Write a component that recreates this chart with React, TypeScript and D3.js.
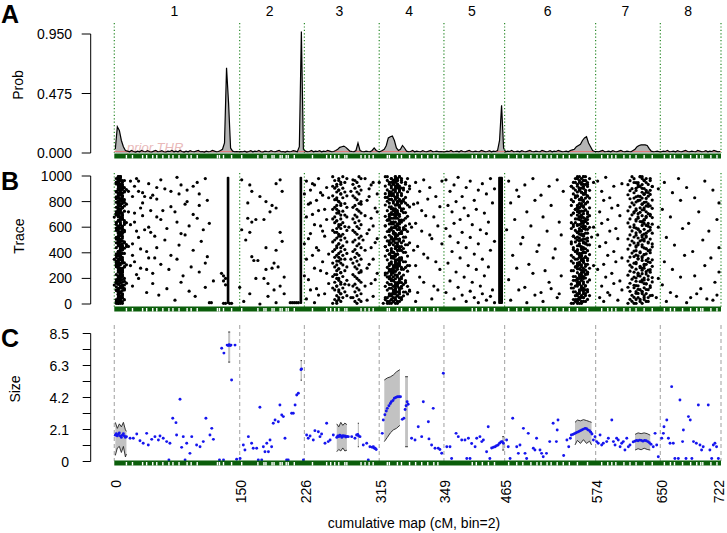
import React, { useEffect, useRef } from 'react';
import * as d3 from 'd3';

// ---------- layout of the genome (marker index along the x axis) ----------
const chrBounds = [0, 62, 94, 131, 163, 193, 238, 270, 300];
const boundLabels = ['0', '150', '226', '315', '349', '465', '574', '650', '722'];
const chrNames = ['1', '2', '3', '4', '5', '6', '7', '8'];

// ---------- Panel A: posterior probability per marker ----------
const probChr1 = [0.03,0.21,0.18,0.10,0.05,0.02,0.015,0.01,0.02,0.012,0.008,0.015,0.01,0.02,0.012,0.01,0.018,0.01,0.008,0.015,0.02,0.01,0.012,0.018,0.01,0.008,0.015,0.012,0.02,0.01,0.015,0.01,0.02,0.012,0.008,0.015,0.01,0.018,0.012,0.01,0.015,0.02,0.01,0.012,0.008,0.015,0.01,0.012,0.02,0.015,0.01,0.012,0.02,0.03,0.08,0.68,0.40,0.04,0.015,0.01,0.012,0.01];
const probChr2 = [0.012,0.01,0.015,0.008,0.012,0.018,0.01,0.015,0.012,0.02,0.01,0.008,0.015,0.012,0.01,0.018,0.012,0.01,0.015,0.02,0.01,0.012,0.008,0.015,0.01,0.012,0.018,0.015,0.01,0.05,0.97,0.03];
const probChr3 = [0.015,0.01,0.012,0.02,0.01,0.015,0.012,0.018,0.01,0.015,0.012,0.02,0.015,0.01,0.012,0.02,0.03,0.045,0.05,0.055,0.045,0.03,0.015,0.012,0.01,0.02,0.08,0.02,0.012,0.01,0.015,0.012,0.01,0.02,0.04,0.02,0.012];
const probChr4 = [0.012,0.02,0.03,0.06,0.12,0.13,0.135,0.10,0.04,0.02,0.03,0.06,0.04,0.015,0.01,0.012,0.02,0.01,0.015,0.012,0.01,0.018,0.012,0.01,0.015,0.02,0.01,0.012,0.015,0.01,0.012,0.01];
const probChr5 = [0.01,0.015,0.012,0.02,0.01,0.012,0.015,0.01,0.018,0.012,0.01,0.015,0.02,0.012,0.01,0.015,0.012,0.01,0.02,0.015,0.01,0.012,0.018,0.01,0.015,0.012,0.02,0.1,0.38,0.04];
const probChr6 = [0.01,0.015,0.012,0.02,0.01,0.012,0.015,0.01,0.018,0.012,0.01,0.015,0.02,0.012,0.01,0.015,0.012,0.01,0.02,0.015,0.01,0.012,0.018,0.01,0.015,0.012,0.02,0.015,0.01,0.012,0.015,0.01,0.02,0.025,0.03,0.05,0.06,0.07,0.1,0.12,0.13,0.08,0.05,0.02,0.012];
const probChr7 = [0.012,0.01,0.015,0.02,0.01,0.012,0.015,0.01,0.018,0.012,0.01,0.015,0.02,0.012,0.01,0.015,0.012,0.01,0.02,0.03,0.05,0.06,0.065,0.065,0.065,0.06,0.035,0.015,0.01,0.012,0.015,0.01];
const probChr8 = [0.01,0.015,0.012,0.02,0.01,0.012,0.015,0.01,0.018,0.012,0.01,0.015,0.02,0.012,0.01,0.015,0.012,0.01,0.02,0.015,0.01,0.012,0.018,0.01,0.015,0.012,0.02,0.015,0.01,0.012];
const probByChr = [probChr1, probChr2, probChr3, probChr4, probChr5, probChr6, probChr7, probChr8];
const priorLevel = 0.012;
const probTicks = [0, 0.475, 0.95];
const probTickLabels = ['0.000', '0.475', '0.950'];

// marker positions shown as white gaps in the green rug
const rugGaps = [6,9,14,16,19,21,24,27,29,32,36,38,41,51,52,54,58,63,71,74,75,78,79,82,83,85,86,89,98,105,107,109,111,114,115,122,124,126,128,135,136,140,142,146,149,152,155,158,160,177,179,182,185,188,195,199,202,206,209,211,214,216,219,222,225,229,234,241,244,246,248,252,255,258,262,266,272,275,277,281,285,288,290,291,295,298];

// ---------- Panel B: MCMC trace (marker, iteration/10) ----------
const traceChr1 = [[8,96],[10,92],[11,98],[14,87],[17,94],[21,91],[23,97],[31,99],[33,93],[36,89],[41,95],[45,98],[9,84],[12,88],[14,79],[19,85],[21,82],[25,90],[28,76],[32,86],[36,80],[39,92],[42,77],[10,71],[13,75],[18,83],[21,68],[24,73],[28,88],[31,64],[35,78],[39,70],[42,86],[46,81],[8,62],[11,57],[14,69],[17,60],[20,53],[23,66],[26,59],[30,72],[33,55],[37,61],[41,67],[44,58],[47,63],[9,47],[12,52],[16,41],[18,56],[21,44],[25,50],[28,38],[32,46],[35,54],[39,42],[43,49],[46,37],[10,33],[13,28],[17,36],[19,24],[23,31],[27,27],[31,35],[34,22],[38,29],[42,25],[45,32],[49,18],[9,14],[12,20],[16,9],[19,16],[22,7],[26,12],[30,3],[33,17],[37,10],[40,6],[45,13],[7,88],[7,45],[8,30],[7,72],[9,38],[10,64],[11,23],[12,96],[13,43],[15,58],[15,84],[16,27],[18,73],[20,36],[47,1],[48,1],[54,22],[54,18],[55,20],[55,15],[53,24],[54,0.5],[55,0.5],[57,0.5],[58,0.5]];
const traceChr2 = [[63,97],[67,93],[68,88],[66,79],[66,67],[68,64],[70,66],[74,66],[77,72],[80,75],[80,94],[82,97],[83,88],[72,84],[75,80],[78,77],[63,58],[65,50],[67,56],[69,34],[68,37],[71,34],[75,27],[78,28],[79,32],[81,29],[82,56],[83,49],[80,42],[75,44],[70,20],[74,20],[76,16],[79,11],[82,14],[84,8],[76,6],[64,2],[72,0],[80,1],[84,21],[67,8],[62,13],[87,1],[88,1],[89,1],[90,1],[91,1]];
const traceChr3 = [[95,96],[97,89],[99,93],[101,98],[103,85],[105,91],[96,78],[98,94],[100,81],[102,87],[104,74],[106,83],[95,68],[97,79],[99,62],[101,73],[103,57],[105,66],[96,51],[98,70],[100,44],[102,61],[104,53],[106,39],[95,35],[97,55],[99,28],[101,42],[103,33],[105,24],[96,19],[98,38],[100,12],[102,26],[104,8],[106,16],[95,4],[97,11],[99,1],[101,7],[94,47],[94,86],[94,22],[124,98],[126,90],[128,95],[130,86],[125,81],[127,93],[129,75],[124,69],[126,84],[128,61],[130,72],[125,55],[127,67],[129,48],[124,42],[126,58],[128,35],[130,51],[125,28],[127,44],[129,19],[124,14],[126,31],[128,6],[130,24],[125,3],[127,16],[117,88],[116,60],[117,35],[116,15],[117,5],[122,2],[118,97],[122,78],[123,50],[122,25]];
const traceChr4 = [[149,95],[151,88],[153,97],[156,91],[159,84],[162,96],[150,79],[152,73],[155,82],[158,68],[161,76],[149,63],[152,57],[154,69],[157,51],[160,61],[150,45],[153,39],[156,54],[159,33],[162,47],[149,30],[151,21],[155,36],[158,14],[161,27],[150,9],[153,17],[157,4],[160,11],[149,2],[131,95],[146,90],[147,60],[145,30],[146,10],[148,78],[148,42]];
const traceChr5 = [[164,97],[166,88],[168,93],[170,99],[172,84],[174,91],[176,96],[178,81],[180,89],[182,94],[184,86],[186,98],[188,90],[165,77],[167,72],[169,80],[171,66],[173,75],[175,69],[177,62],[179,74],[181,58],[183,71],[185,64],[187,79],[164,59],[166,53],[168,63],[170,48],[172,56],[174,44],[176,52],[178,39],[180,47],[182,35],[184,55],[186,42],[188,49],[165,32],[167,41],[169,25],[171,36],[173,21],[175,30],[177,17],[179,27],[181,14],[183,22],[185,29],[187,11],[164,9],[166,18],[168,4],[170,13],[172,7],[174,2],[176,10],[178,5],[180,1],[182,8],[184,3],[186,6],[188,1]];
const traceChr6 = [[195,96],[199,89],[203,93],[207,98],[211,85],[215,92],[219,97],[222,88],[196,79],[200,84],[204,72],[208,81],[212,68],[216,77],[220,64],[194,58],[198,66],[202,52],[206,61],[210,46],[214,57],[218,43],[221,54],[197,38],[201,47],[205,31],[209,41],[213,26],[217,36],[221,22],[195,19],[199,28],[203,13],[207,24],[211,9],[215,17],[219,5],[196,3],[200,11],[204,1],[208,7],[212,2],[216,12],[220,8],[237,95],[237,60],[237,30]];
const traceChr7 = [[239,96],[241,88],[243,99],[245,83],[247,92],[249,77],[251,94],[240,72],[242,81],[244,66],[246,75],[248,59],[250,69],[239,54],[241,63],[243,48],[245,57],[247,41],[249,51],[251,36],[240,45],[242,31],[244,38],[246,24],[248,33],[250,18],[239,27],[241,14],[243,21],[245,7],[247,16],[249,3],[251,11],[240,5],[242,2],[244,9],[269,90],[269,60],[269,20],[268,5]];
const traceChr8 = [[272,95],[276,87],[279,98],[283,91],[287,83],[292,96],[296,89],[299,79],[271,74],[275,68],[280,81],[284,63],[289,72],[294,57],[298,66],[273,52],[277,46],[281,59],[286,41],[291,50],[295,36],[299,44],[272,33],[276,27],[282,38],[287,22],[292,30],[297,17],[271,15],[275,9],[280,21],[285,5],[290,12],[296,3],[299,25],[273,2],[278,6],[283,1],[288,8],[293,4],[298,7]];
const traceScatter = [traceChr1, traceChr2, traceChr3, traceChr4, traceChr5, traceChr6, traceChr7, traceChr8];

// dense chains: each character (base 36) = marker offset from the band start, one per equal iteration step
const bandChr1 = { start: 0, chains: ['2334322123432123344321223321234432212334212332344312232134432123321223', '1212343221011232343212110123234321221323432112302123433221123343212312', '3454323454565434323456543432345665432345434565432123456543234565434323', '2132423143213241324213423142312432143214231342143213423142132431423', '4323242534243524342534243352434253423452435243425342345243524342532'] };
const bandChr3a = { start: 107, chains: ['3546857463758463574865374685736485746385746358746385743685746357486', '1324354213524312534231452341253412354213452312534123542315342135241'] };
const bandChr3b = { start: 118, chains: ['2130241320143210342130241320142301342103241302143201342103241302143'] };
const bandChr4 = { start: 130, chains: ['789879a9b8a98769878a9b9a8798a9b87689a98b9a876897a98b9ac9a876897a98a9', '56457685946576845675869574685746957468579468574695874657486957468574', 'ab9cabd9bcaeb9cab9dcbaecb9adcbaecb9dabcedab9ceb9dacbaedb9cabdcbae9cb', '3574689b7a9c86574968a7b9c8a75946a8b79c6a847b5968ac7b9a8657469ba87c95', '9acbdfegcfdbecadbfceg9dbcfaebdcfgdbeacfdbegcdafbecdgfcbdeacfbdgecafb', '6879a7b8697a8b6978a96b7a89687b9a68a79b8679a8b69a7896b8a79687ba986a79'] };
const bandChr6 = { start: 224, chains: ['5768756987657689a86756879768576987a8657896879a7685679867a8967586978', '3546453624563546735465243654736245637546352746536452736453746253645', '79a8b9a8798ab97a89b9a87a9b8a97b8a9c8a79b8a9a7b8a9b79a8ba97b8a9a8b9', '2436584735264837526473856274385627438562734856237485632748563274856', '6857968a79685769a78596a8769587a9685796a8579687a59686a79587968a7958'] };
const bandChr7 = { start: 252, chains: ['5867a96857b9a68759a8b6975a86b9758a96b8759a86b975a8b96857a9b6875a98', '9bacdb9cadbe9acbdc9eadbc9adcbe9cadb9ecadbc9aedcb9adcbe9cabd9ecbad9', '2435463725364527364352736452637425364735263745263547362534726354', '6c8ae79bd6a8ce79bd8a6ce97b8da6ec97ba8d6ce9a7bd86ec9a7b8dc6ae97db8'] };
const traceBands = [bandChr1, bandChr3a, bandChr3b, bandChr4, bandChr6, bandChr7];
// loci held through the whole run: [markerFrom, markerTo, iterFrom, iterTo]
const traceSolid = [[55.6, 56.9, 0, 995], [91.6, 92.9, 0, 995], [189.8, 192.2, 0, 995]];
const traceTicks = [0, 200, 400, 600, 800, 1000];

// ---------- Panel C: effect size per marker ----------
const sizeChr1 = [[0.5,1.75],[1,1.85],[1.5,1.7],[2,1.8],[2.5,1.9],[3,1.7],[3.5,1.6],[4,1.75],[4.5,1.85],[5,1.7],[5.5,1.6],[6,1.65],[7.8,1.54],[9.4,1.54],[11.1,1.83],[12.7,1.38],[14.3,1.21],[16,1.87],[16.8,1.1],[18.5,1.47],[20.1,1.65],[21.8,1.43],[22.6,1.69],[24.2,1.54],[25.9,1.32],[27.5,1.21],[28.9,2.87],[30.5,2.58],[30.8,1.76],[32.5,4.13],[33.3,0.94],[34.1,1.65],[35.8,1.21],[37.4,0.54],[38.3,1.65],[40.7,1.1],[42.4,0.98],[44,1.32],[45.3,2.87],[47.3,1.76],[48.2,2.2],[49,1.47],[27,0.1],[35,0.1],[52,0.1],[54,0.1],[53.1,7.52],[54.2,7.2],[55.8,7.73],[56.3,7.7],[56.8,7.75],[57.3,7.7],[57.7,7.73],[59.7,7.73],[58,5.41]];
const sizeChr2 = [[60.5,0.15],[62.2,0.2],[63.8,1.1],[64.6,0.76],[66.3,1.65],[67.9,1.21],[68.7,0.88],[70.4,0.88],[71.2,0.1],[72,3.6],[72.9,0.1],[73.7,0.98],[74.5,0.65],[75.4,1.21],[76.2,0.65],[77,1.43],[77.8,0.98],[78.6,2.54],[79.5,2.76],[81.1,2.64],[81.9,3.75],[82.8,3.09],[83.6,2.98],[84.4,1.54],[85.2,0.1],[86,0.1],[87.7,3.2],[88.5,3.2],[89.4,3.75],[90.2,4.42],[91,4.53],[92.3,6.1],[92.6,6.15],[93.5,0.1]];
const sizeChr3 = [[95.1,1.76],[95.9,1.54],[96.8,1.69],[98.4,1.43],[99.2,2.05],[100.9,1.98],[101.7,1.65],[102.5,1.83],[104.2,1.21],[105,2.54],[105.8,1.32],[106.7,1.43],[108.3,1.76],[110,1.6],[110.5,1.7],[111,1.65],[111.5,1.75],[112,1.7],[112.5,1.6],[113,1.72],[113.5,1.68],[114,1.7],[114.5,1.62],[115,1.66],[115.7,1.65],[117.4,1.65],[119,1.54],[119.8,1.76],[120.4,1.8],[120.8,1.7],[121.5,1.65],[123.1,1.1],[124.8,1.21],[125.6,0.1],[126.4,0.98],[127.5,0.95],[128.1,0.98],[128.6,0.88],[129,0.88],[129.5,0.8]];
const sizeChr4 = [[133,2.76],[133.8,3.1],[134.5,3.35],[135,3.53],[135.8,3.7],[136.5,3.85],[137,3.97],[137.8,4.05],[138.5,4.2],[139.2,4.25],[140,4.3],[140.8,4.3],[141.5,4.3],[132.5,1.87],[142.4,2.8],[143.2,2.87],[143.8,3.45],[144.3,3.7],[144.8,3.97],[145.3,3.8],[147,1.54],[148.7,1.43],[150.3,2.31],[152,1.65],[152.8,3.97],[155.3,2.64],[155.6,1.5],[156.9,1.1],[157.7,3.53],[158.6,0.88],[160.2,0.88],[161,0.8],[161.9,0.55],[162.7,5.86]];
const sizeChr5 = [[164.4,0.98],[166,0.98],[166.8,0.2],[169,1.87],[170.1,1.65],[171.8,1.43],[173.4,1.43],[174.3,0.2],[175.1,1.54],[175.9,0.2],[176.7,1.2],[178.4,0.98],[179.2,1.54],[180.8,1.65],[181.7,1.32],[182.5,1.43],[184.1,0.65],[184.9,2.31],[185.7,0.2],[186.6,0.9],[187.5,0.95],[188.3,0.98],[189,1.05],[189.8,1.1],[190.5,1.21],[191.2,1.3],[191.8,1.32],[192.4,1.21]];
const sizeChr6 = [[194,1.43],[194.8,0.98],[195.7,0.2],[197,2.87],[199,0.98],[199.8,0.54],[200.6,1.1],[202.3,2.2],[203.1,0.54],[203.9,0.2],[204.7,1.87],[207.2,0.88],[208,0.76],[208.8,1.54],[210.5,0.76],[211.3,0.54],[212.1,0.32],[213.7,0.54],[215.3,1.32],[217,2.54],[218.6,1.32],[219,2.09],[219.4,2.76],[222.2,0.4],[223.8,1.43],[224.7,0.98],[225.5,1.54],[226,1.76],[226.8,1.8],[227.5,1.85],[228.2,1.9],[229,1.95],[229.8,2.0],[230.5,2.05],[231.2,2.1],[232,2.15],[232.8,2.2],[233.5,2.18],[234.2,2.1],[235,2.05],[235.6,1.95],[236.2,1.83],[236.9,1.43],[237.7,1.65]];
const sizeChr7 = [[238.5,1.32],[239.3,1.21],[240.2,1.76],[241,1.1],[241.8,1.21],[243.5,1.32],[244.3,1.54],[246,2.76],[246.8,1.32],[247.6,1.1],[248.4,1.54],[249.2,1.43],[250.1,0.98],[250.9,1.21],[251.7,1.32],[252.5,0.76],[253.4,1.54],[254.2,0.98],[255,1.1],[256.6,1.3],[257.4,1.35],[258.2,1.4],[259,1.38],[259.8,1.42],[260.6,1.4],[261.4,1.35],[262.2,1.4],[263,1.38],[263.8,1.32],[264.6,1.25],[265.4,1.15],[266.5,0.98],[267.4,1.87],[268.2,1.1],[269,0.32]];
const sizeChr8 = [[270.7,1.54],[271.5,1.87],[271.8,2.31],[273.2,2.76],[274,1.54],[274.8,1.21],[275.6,4.97],[276.4,1.21],[277.2,0.2],[278.9,0.2],[279.7,4.08],[281,1.32],[281.4,2.09],[282.7,0.2],[283.9,2.98],[284.8,2.76],[285.6,0.2],[286.4,1.32],[287.8,1.21],[288.8,3.75],[289.6,1.1],[290.4,0.76],[291.2,0.98],[293.7,3.75],[294.5,0.76],[295.4,0.2],[296.2,1.1],[297,1.21],[297.8,0.98],[298.7,0.2]];
const sizeByChr = [sizeChr1, sizeChr2, sizeChr3, sizeChr4, sizeChr5, sizeChr6, sizeChr7, sizeChr8];

// credible bands [marker, lower, upper]
const ciChr1a = [[0.5,0.4,2.6],[1.5,0.9,2.2],[2.5,1.0,2.5],[3.5,0.6,2.3],[4.5,1.0,2.6],[5.5,0.3,2.1],[6.0,0.5,2.0]];
const ciChr1b = [[56.3,6.6,8.6],[57.3,6.6,8.6]];
const ciChr2 = [[92.1,5.4,6.7],[92.8,5.4,6.7]];
const ciChr3a = [[110,0.65,2.5],[111,0.8,2.3],[112,0.7,2.6],[113,0.9,2.4],[114,0.7,2.55],[115,0.75,2.45]];
const ciChr3b = [[120.4,0.98,2.54],[121,0.98,2.54]];
const ciChr4a = [[133.5,1.32,5.41],[135,1.6,5.55],[136.5,1.9,5.62],[138,2.1,5.75],[139.5,2.2,5.95],[141.2,2.4,6.1]];
const ciChr4b = [[143.8,0.98,5.63],[145.2,0.98,5.63]];
const ciChr5 = [[191.8,0.76,1.65],[192.8,0.76,1.65]];
const ciChr6 = [[227.8,1.1,2.6],[229,1.4,2.75],[230.5,1.2,2.7],[232,1.45,2.78],[233.5,1.2,2.72],[235,1.35,2.65],[236,1.1,2.6]];
const ciChr7 = [[257.5,0.76,1.8],[259,0.85,1.9],[260.5,0.78,1.85],[262,0.88,1.9],[263.5,0.8,1.85],[265,0.76,1.75]];
const ciBands = [ciChr1a, ciChr1b, ciChr2, ciChr3a, ciChr3b, ciChr4a, ciChr4b, ciChr5, ciChr6, ciChr7];
const sizeMax = 8.5;
const sizeTickLabels = ['0', '2.1', '4.2', '6.3', '8.5'];

const FONT = 'Liberation Sans, Arial, Helvetica, sans-serif';

export default function App() {
  const ref = useRef<SVGSVGElement>(null);

  useEffect(() => {
    const svg = d3.select(ref.current);
    svg.selectAll('*').remove();
    const nMarkers = chrBounds[chrBounds.length - 1];
    const x = d3.scaleLinear().domain([0, nMarkers]).range([114.3, 721]);
    const yA = d3.scaleLinear().domain([0, 0.95]).range([153, 34]);
    const yB = d3.scaleLinear().domain([0, 1000]).range([304, 176]);
    const yC = d3.scaleLinear().domain([0, sizeMax]).range([461.5, 333.5]);
    const axisX = 90.7;

    const g = svg.append('g').attr('font-family', FONT);

    // panel letters
    [['A', 23], ['B', 190], ['C', 347]].forEach(([t, yy]) => {
      g.append('text').attr('x', 1).attr('y', yy as number).attr('font-size', 25).attr('font-weight', 'bold').text(t as string);
    });

    // chromosome names
    chrNames.forEach((n, i) => {
      const cx = (x(chrBounds[i]) + x(chrBounds[i + 1])) / 2 - 2.5;
      g.append('text').attr('x', cx).attr('y', 16).attr('text-anchor', 'middle').attr('font-size', 14).text(n);
    });

    // axis titles
    const yTitle = (t: string, xx: number, yy: number) =>
      g.append('text').attr('transform', `translate(${xx},${yy}) rotate(-90)`).attr('text-anchor', 'middle').attr('font-size', 14).text(t);
    yTitle('Prob', 23, 85);
    yTitle('Trace', 24, 236);
    yTitle('Size', 20, 389);

    const drawYAxis = (scale: d3.ScaleLinear<number, number>, ticks: number[], labels: (string | null)[], labelX: number, tickLen: number) => {
      const [d0, d1] = scale.domain();
      g.append('line').attr('x1', axisX).attr('x2', axisX).attr('y1', scale(d0)).attr('y2', scale(d1)).attr('stroke', '#000').attr('stroke-width', 1);
      ticks.forEach((t, i) => {
        g.append('line').attr('x1', axisX - tickLen).attr('x2', axisX).attr('y1', scale(t)).attr('y2', scale(t)).attr('stroke', '#000');
        if (labels[i] !== null) {
          g.append('text').attr('x', labelX).attr('y', scale(t)).attr('dy', '0.36em').attr('text-anchor', 'end').attr('font-size', 14).text(labels[i] as string);
        }
      });
    };

    const drawRug = (y0: number) => {
      g.append('rect').attr('x', x(0)).attr('y', y0).attr('width', x(nMarkers) - x(0)).attr('height', 5).attr('fill', '#0b5e0b');
      rugGaps.forEach(m => {
        g.append('rect').attr('x', x(m) - 0.7).attr('y', y0 + 1.5).attr('width', 1.4).attr('height', 3.5).attr('fill', '#fff');
      });
    };

    // ---------------- Panel A ----------------
    const probPts: [number, number][] = [];
    probByChr.forEach((arr, c) => arr.forEach((p, j) => probPts.push([chrBounds[c] + j + 0.5, p])));
    g.append('path')
      .attr('d', d3.area<[number, number]>().x(d => x(d[0])).y0(yA(0)).y1(d => yA(d[1]))(probPts) as string)
      .attr('fill', '#b5b5b5');
    g.append('text').attr('x', 127).attr('y', 152).attr('font-size', 13).attr('font-style', 'italic').attr('fill', '#e9b9b9').text('prior THR');
    g.append('line').attr('x1', x(0)).attr('x2', x(nMarkers)).attr('y1', yA(priorLevel)).attr('y2', yA(priorLevel))
      .attr('stroke', '#e07a7a').attr('stroke-width', 1);
    g.append('path').attr('d', d3.line<[number, number]>().x(d => x(d[0])).y(d => yA(d[1]))(probPts) as string)
      .attr('fill', 'none').attr('stroke', '#000').attr('stroke-width', 1.2);
    chrBounds.forEach(b => {
      g.append('line').attr('x1', x(b)).attr('x2', x(b)).attr('y1', 23).attr('y2', 153)
        .attr('stroke', '#2a8a2a').attr('stroke-width', 1.2).attr('stroke-dasharray', '1.2,2.2');
    });
    drawRug(153.5);
    drawYAxis(yA, probTicks, probTickLabels, 72, 9);

    // ---------------- Panel B ----------------
    chrBounds.forEach(b => {
      g.append('line').attr('x1', x(b)).attr('x2', x(b)).attr('y1', 173).attr('y2', 307)
        .attr('stroke', '#2a8a2a').attr('stroke-width', 1.2).attr('stroke-dasharray', '1.2,2.2');
    });
    const dots = g.append('g').attr('fill', '#000');
    traceScatter.forEach(arr => arr.forEach(([m, t]) => {
      dots.append('circle').attr('cx', x(m)).attr('cy', yB(t * 10)).attr('r', 1.6);
    }));
    traceBands.forEach(band => band.chains.forEach(s => {
      const offs = s.split('').map(ch => parseInt(ch, 36));
      const step = 990 / (offs.length - 1);
      offs.forEach((o, k) => {
        dots.append('circle').attr('cx', x(band.start + o)).attr('cy', yB(5 + k * step)).attr('r', 1.6);
      });
    }));
    traceSolid.forEach(([m0, m1, t0, t1]) => {
      dots.append('rect').attr('x', x(m0)).attr('width', x(m1) - x(m0)).attr('y', yB(t1)).attr('height', yB(t0) - yB(t1)).attr('rx', 1);
    });
    drawRug(306.5);
    drawYAxis(yB, traceTicks, traceTicks.map(String), 72, 9);

    // ---------------- Panel C ----------------
    chrBounds.forEach(b => {
      g.append('line').attr('x1', x(b)).attr('x2', x(b)).attr('y1', 325).attr('y2', 461)
        .attr('stroke', '#b0b0b0').attr('stroke-width', 1.2).attr('stroke-dasharray', '4,3');
    });
    ciBands.forEach(band => {
      const pts = band as [number, number, number][];
      g.append('path').attr('d', d3.area<[number, number, number]>().x(d => x(d[0])).y0(d => yC(d[1])).y1(d => yC(d[2]))(pts) as string)
        .attr('fill', '#c2c2c2');
      [1, 2].forEach(k => {
        g.append('path').attr('d', d3.line<[number, number, number]>().x(d => x(d[0])).y(d => yC(d[k]))(pts) as string)
          .attr('fill', 'none').attr('stroke', '#222').attr('stroke-width', 0.9);
      });
    });
    const bdots = g.append('g').attr('fill', '#1515ee');
    sizeByChr.forEach(arr => arr.forEach(([m, s]) => {
      bdots.append('circle').attr('cx', x(m)).attr('cy', yC(s)).attr('r', 1.45);
    }));
    drawRug(460.5);
    const cTicks = d3.range(9).map(k => (sizeMax * k) / 8);
    drawYAxis(yC, cTicks, cTicks.map((_, k) => (k % 2 === 0 ? sizeTickLabels[k / 2] : null)), 69, 8);

    // bottom labels (rotated)
    chrBounds.forEach((b, i) => {
      const lx = Math.min(x(b) + 1.5, 719);
      g.append('text').attr('transform', `translate(${lx},480) rotate(-90)`)
        .attr('text-anchor', 'end').attr('dy', '0.35em').attr('font-size', 14).text(boundLabels[i]);
    });
    g.append('text').attr('x', 414).attr('y', 528).attr('text-anchor', 'middle').attr('font-size', 14).text('cumulative map (cM, bin=2)');
  }, []);

  return (
    <svg ref={ref} width={727} height={533}
      style={{ position: 'absolute', left: 0, top: 0, background: '#fff', display: 'block' }} />
  );
}
